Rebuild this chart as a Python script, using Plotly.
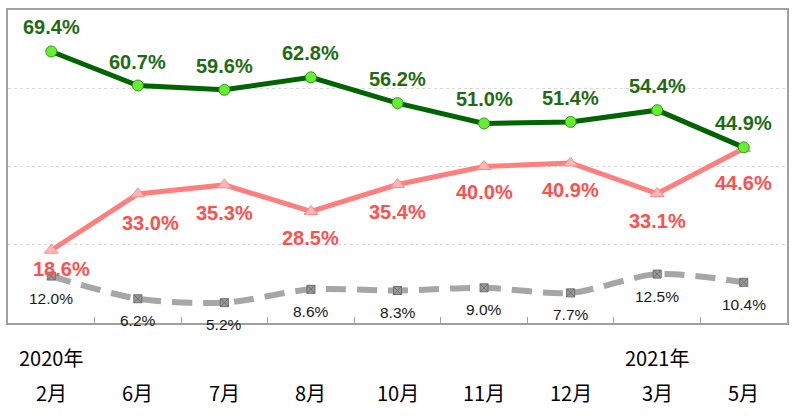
import plotly.graph_objects as go

months = ["2月", "6月", "7月", "8月", "10月", "11月", "12月", "3月", "5月"]
years = {"2月": "2020年", "3月": "2021年"}
green_vals = [69.4, 60.7, 59.6, 62.8, 56.2, 51.0, 51.4, 54.4, 44.9]
pink_vals = [18.6, 33.0, 35.3, 28.5, 35.4, 40.0, 40.9, 33.1, 44.6]
gray_vals = [12.0, 6.2, 5.2, 8.6, 8.3, 9.0, 7.7, 12.5, 10.4]

x = list(range(len(months)))
FONT = "Liberation Sans, Arial, sans-serif"
CJK = "Noto Sans CJK TC, sans-serif"

fig = go.Figure()
fig.add_trace(go.Scatter(
    x=x, y=gray_vals, mode="lines+markers",
    line=dict(color="#a6a6a6", width=6, dash="20px,11px", shape="spline", smoothing=0.8),
    marker=dict(symbol="square-x", size=8, color="#9a9a9a", line=dict(color="#6e6e6e", width=1)),
    hoverinfo="skip"))
fig.add_trace(go.Scatter(
    x=x, y=pink_vals, mode="lines+markers",
    line=dict(color="#ff7f7f", width=5),
    marker=dict(symbol="triangle-up", size=12, color="#ffb6b6", line=dict(color="#ff8c8c", width=1)),
    hoverinfo="skip"))
fig.add_trace(go.Scatter(
    x=x, y=green_vals, mode="lines+markers",
    line=dict(color="#006400", width=5),
    marker=dict(symbol="circle", size=11, color="#66ee33", line=dict(color="#2e9a1e", width=1)),
    hoverinfo="skip"))

ann = []
for i, v in enumerate(green_vals):
    ann.append(dict(x=i, y=v, text=f"{v:.1f}%", showarrow=False, yshift=24,
                    font=dict(family=FONT, size=20, color="#1e6b14", weight="bold")))
pink_shift = [-19, -29, -28, -27, -27, -25, -27, -27, -34]
pink_xshift = [10, 13, 0, 0, 0, 0, 0, 0, 0]
for i, v in enumerate(pink_vals):
    ann.append(dict(x=i, y=v, text=f"{v:.1f}%", showarrow=False, yshift=pink_shift[i],
                    xshift=pink_xshift[i],
                    font=dict(family=FONT, size=20, color="#ff4f4f", weight="bold")))
for i, v in enumerate(gray_vals):
    ann.append(dict(x=i, y=v, text=f"{v:.1f}%", showarrow=False, yshift=-22,
                    font=dict(family=FONT, size=15.5, color="#1a1a1a")))
for i, m in enumerate(months):
    ann.append(dict(x=i, y=-0.222, yref="paper", yanchor="middle", text=m, showarrow=False,
                    font=dict(family=CJK, size=20, color="#000000")))
    if m in years and (i == 0 or i == 7):
        ann.append(dict(x=i, y=-0.111, yref="paper", yanchor="middle", text=years[m],
                        showarrow=False, font=dict(family=CJK, size=20, color="#000000")))

fig.update_layout(
    width=800, height=420,
    margin=dict(l=8, r=13, t=8, b=97),
    paper_bgcolor="white", plot_bgcolor="white",
    showlegend=False,
    annotations=ann,
    xaxis=dict(range=[-0.5, len(months) - 0.5], tickmode="array",
               tickvals=[i + 0.5 for i in range(len(months) - 1)],
               showticklabels=False, ticks="inside", ticklen=6, tickcolor="#a0a0a0",
               showgrid=False, zeroline=False, showline=True, mirror=True,
               linecolor="#a0a0a0", linewidth=2),
    yaxis=dict(range=[0, 80], tickvals=[20, 40, 60], showticklabels=False,
               showgrid=True, gridcolor="#d9d9d9", griddash="dot", gridwidth=1,
               zeroline=False, showline=True, mirror=True,
               linecolor="#a0a0a0", linewidth=2),
)
fig.write_html("out.html")
